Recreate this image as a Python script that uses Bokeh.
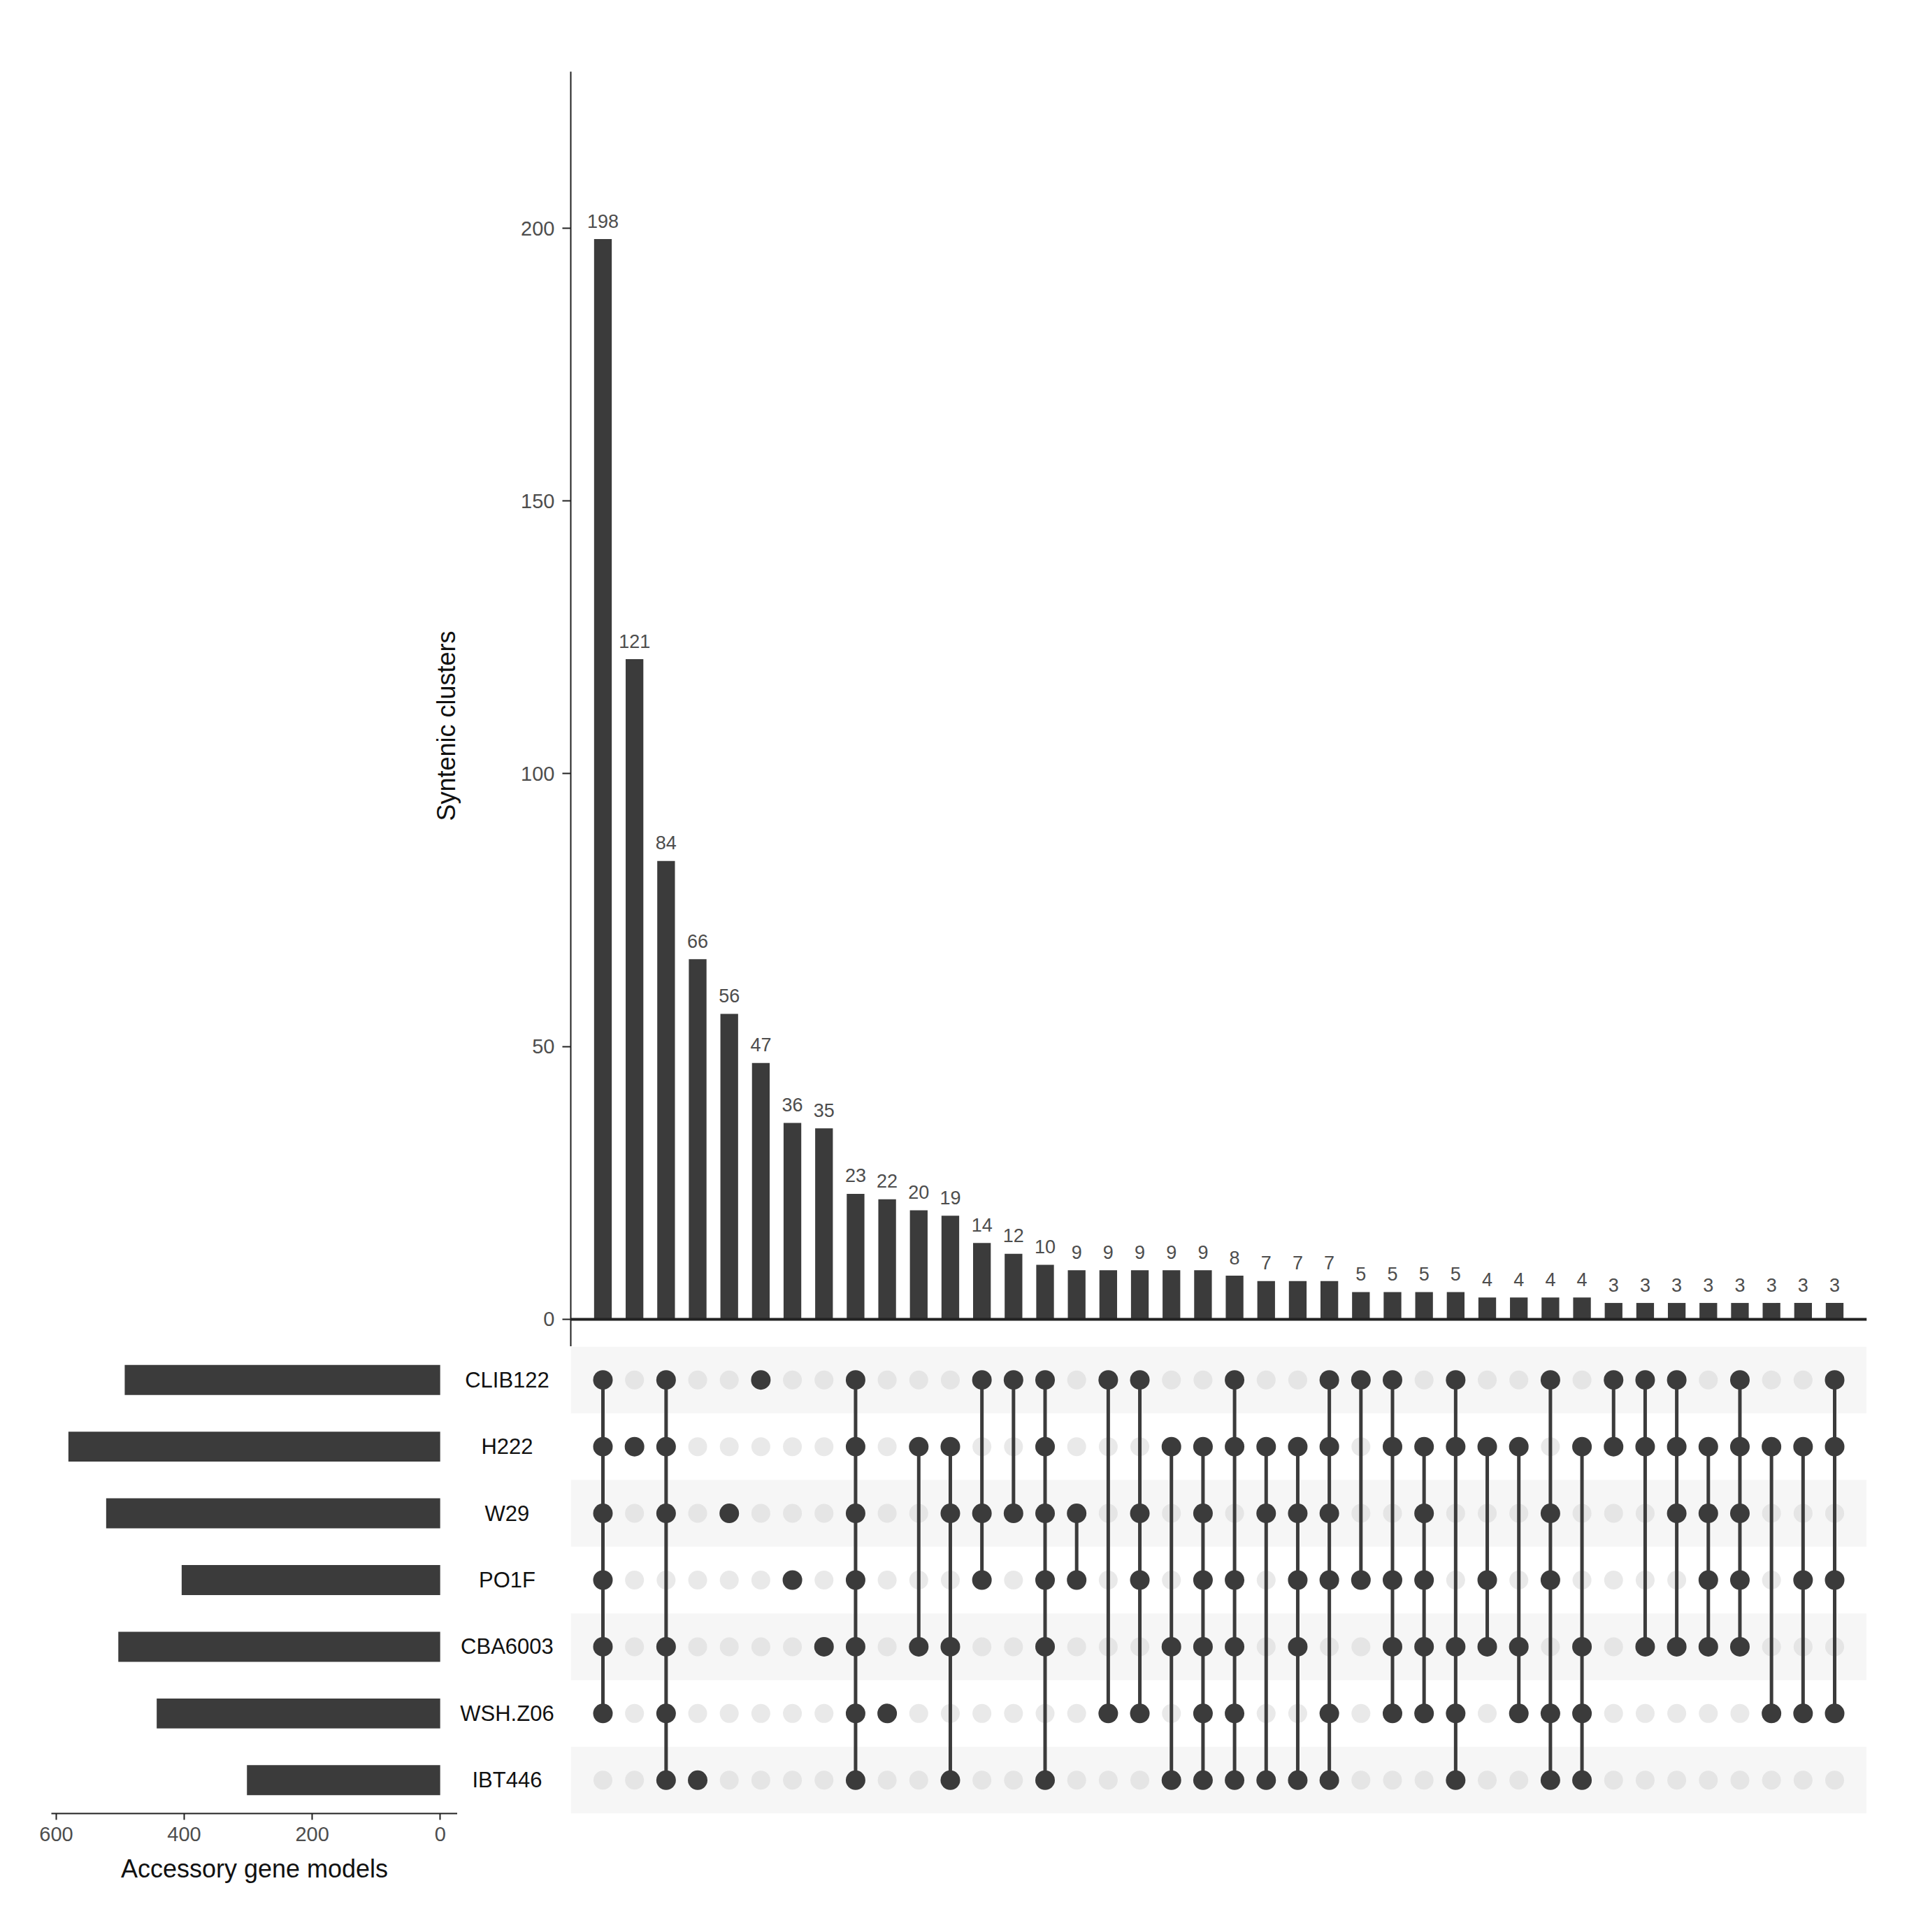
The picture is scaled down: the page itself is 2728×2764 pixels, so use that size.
from bokeh.plotting import figure
from bokeh.layouts import column, row
from bokeh.models import Range1d, FixedTicker, Span, BoxAnnotation, Title
from bokeh.embed import file_html
from bokeh.resources import INLINE
from bokeh.core.properties import value

# ---------------- data ----------------
sets = ["CLIB122", "H222", "W29", "PO1F", "CBA6003", "WSH.Z06", "IBT446"]
set_sizes = [493, 581, 522, 404, 503, 443, 302]

counts = [198, 121, 84, 66, 56, 47, 36, 35, 23, 22, 20, 19, 14, 12, 10,
          9, 9, 9, 9, 9, 8, 7, 7, 7, 5, 5, 5, 5, 4, 4, 4, 4,
          3, 3, 3, 3, 3, 3, 3, 3]

members = [
    ["CLIB122", "H222", "W29", "PO1F", "CBA6003", "WSH.Z06"],
    ["H222"],
    ["CLIB122", "H222", "W29", "CBA6003", "WSH.Z06", "IBT446"],
    ["IBT446"],
    ["W29"],
    ["CLIB122"],
    ["PO1F"],
    ["CBA6003"],
    ["CLIB122", "H222", "W29", "PO1F", "CBA6003", "WSH.Z06", "IBT446"],
    ["WSH.Z06"],
    ["H222", "CBA6003"],
    ["H222", "W29", "CBA6003", "IBT446"],
    ["CLIB122", "W29", "PO1F"],
    ["CLIB122", "W29"],
    ["CLIB122", "H222", "W29", "PO1F", "CBA6003", "IBT446"],
    ["W29", "PO1F"],
    ["CLIB122", "WSH.Z06"],
    ["CLIB122", "W29", "PO1F", "WSH.Z06"],
    ["H222", "CBA6003", "IBT446"],
    ["H222", "W29", "PO1F", "CBA6003", "WSH.Z06", "IBT446"],
    ["CLIB122", "H222", "PO1F", "CBA6003", "WSH.Z06", "IBT446"],
    ["H222", "W29", "IBT446"],
    ["H222", "W29", "PO1F", "CBA6003", "IBT446"],
    ["CLIB122", "H222", "W29", "PO1F", "WSH.Z06", "IBT446"],
    ["CLIB122", "PO1F"],
    ["CLIB122", "H222", "PO1F", "CBA6003", "WSH.Z06"],
    ["H222", "W29", "PO1F", "CBA6003", "WSH.Z06"],
    ["CLIB122", "H222", "CBA6003", "WSH.Z06", "IBT446"],
    ["H222", "PO1F", "CBA6003"],
    ["H222", "CBA6003", "WSH.Z06"],
    ["CLIB122", "W29", "PO1F", "WSH.Z06", "IBT446"],
    ["H222", "CBA6003", "WSH.Z06", "IBT446"],
    ["CLIB122", "H222"],
    ["CLIB122", "H222", "CBA6003"],
    ["CLIB122", "H222", "W29", "CBA6003"],
    ["H222", "W29", "PO1F", "CBA6003"],
    ["CLIB122", "H222", "W29", "PO1F", "CBA6003"],
    ["H222", "WSH.Z06"],
    ["H222", "PO1F", "WSH.Z06"],
    ["CLIB122", "H222", "PO1F", "WSH.Z06"],
]

y_ticks = [0, 50, 100, 150, 200]
x_ticks_left = [0, 200, 400, 600]

# ---------------- styling ----------------
DARK = "#3b3b3b"
FONT = value("Liberation Sans")
n = len(sets)
ncol = len(counts)
xs = list(range(1, ncol + 1))
row_y = {s: n - i for i, s in enumerate(sets)}   # CLIB122 on top

X_RANGE = (-0.018, ncol + 1.018)
ROW_RANGE = (0.5, n + 0.5)
BOTTOM_H = 818
BOTTOM_B = 150


def clean(p):
    p.outline_line_color = None
    p.background_fill_color = "white"
    p.border_fill_color = "white"
    for g in list(p.xgrid) + list(p.ygrid):
        g.visible = False


def style_axis(ax, ticks, tick_out, label_standoff):
    ax.ticker = FixedTicker(ticks=ticks)
    ax.major_label_text_font = "Liberation Sans"
    ax.major_label_text_font_size = "29px"
    ax.major_label_text_color = "#4d4d4d"
    ax.major_label_standoff = label_standoff
    ax.major_tick_out = tick_out
    ax.major_tick_in = 0
    ax.minor_tick_out = 0
    ax.minor_tick_in = 0
    ax.axis_line_color = "#222222"
    ax.axis_line_width = 2
    ax.major_tick_line_color = "#222222"
    ax.major_tick_line_width = 2


# ---------------- top: intersection sizes ----------------
top = figure(width=2710, height=1926,
             x_range=Range1d(*X_RANGE), y_range=Range1d(-5.0, 228.7),
             output_backend="svg", toolbar_location=None,
             x_axis_location=None, y_axis_location="left",
             min_border_left=816, min_border_right=40,
             min_border_top=102, min_border_bottom=0)
clean(top)
top.vbar(x=xs, top=counts, bottom=0, width=0.56, fill_color=DARK, line_color=None)
top.add_layout(Span(location=0, dimension="width", line_color="#222222", line_width=4))
top.text(x=xs, y=counts, text=[str(c) for c in counts],
         text_align="center", text_baseline="alphabetic", y_offset=-26,
         text_font_size="27px", text_color="#4d4d4d", text_font=FONT)

ya = top.yaxis[0]
style_axis(ya, y_ticks, 12, 11)
top.add_layout(Title(text="Syntenic clusters", align="left", offset=752,
                     standoff=168, text_font="Liberation Sans",
                     text_font_size="36px", text_font_style="normal",
                     text_color="#111111"), "left")

# ---------------- bottom-left: set sizes ----------------
left = figure(width=654, height=BOTTOM_H,
              x_range=Range1d(607.6, -27.1), y_range=Range1d(*ROW_RANGE),
              output_backend="svg", toolbar_location=None,
              x_axis_location="below", y_axis_location=None,
              min_border_left=73, min_border_right=0,
              min_border_top=0, min_border_bottom=BOTTOM_B)
clean(left)
left.hbar(y=[row_y[s] for s in sets], left=0, right=set_sizes, height=0.45,
          fill_color=DARK, line_color=None)
xa = left.xaxis[0]
style_axis(xa, x_ticks_left, 9, 10)
xa.axis_label = "Accessory gene models"
xa.axis_label_text_font = "Liberation Sans"
xa.axis_label_text_font_size = "36px"
xa.axis_label_text_font_style = "normal"
xa.axis_label_text_color = "#111111"
xa.axis_label_standoff = 16

# ---------------- bottom-middle: set names ----------------
labels = figure(width=162, height=BOTTOM_H,
                x_range=Range1d(0, 1), y_range=Range1d(*ROW_RANGE),
                output_backend="svg", toolbar_location=None,
                x_axis_location=None, y_axis_location=None,
                min_border_left=0, min_border_right=0,
                min_border_top=0, min_border_bottom=BOTTOM_B)
clean(labels)
labels.text(x=[0.438] * n, y=[row_y[s] for s in sets], text=sets,
            text_align="center", text_baseline="middle",
            text_font_size="31px", text_color="#111111", text_font=FONT)

# ---------------- bottom-right: matrix ----------------
mat = figure(width=1854, height=BOTTOM_H,
             x_range=Range1d(*X_RANGE), y_range=Range1d(*ROW_RANGE),
             output_backend="svg", toolbar_location=None,
             x_axis_location=None, y_axis_location=None,
             min_border_left=0, min_border_right=0,
             min_border_top=0, min_border_bottom=BOTTOM_B)
clean(mat)
for i, s in enumerate(sets):
    if i % 2 == 0:
        mat.add_layout(BoxAnnotation(bottom=row_y[s] - 0.5, top=row_y[s] + 0.5,
                                     fill_color="#f6f6f6", fill_alpha=1.0,
                                     line_color=None, level="underlay"))

off_x, off_y, on_x, on_y = [], [], [], []
seg_x, seg_y0, seg_y1 = [], [], []
for x, mem in zip(xs, members):
    for s in sets:
        if s in mem:
            on_x.append(x)
            on_y.append(row_y[s])
        else:
            off_x.append(x)
            off_y.append(row_y[s])
    if len(mem) > 1:
        ys = [row_y[s] for s in mem]
        seg_x.append(x)
        seg_y0.append(min(ys))
        seg_y1.append(max(ys))

mat.scatter(x=off_x, y=off_y, size=27, marker="circle",
            fill_color="#d4d4d4", fill_alpha=0.5, line_color=None)
mat.segment(x0=seg_x, y0=seg_y0, x1=seg_x, y1=seg_y1,
            line_color=DARK, line_width=5)
mat.scatter(x=on_x, y=on_y, size=28, marker="circle",
            fill_color=DARK, line_color=None)

layout = column(top, row(left, labels, mat))
open("out.html", "w").write(file_html(layout, INLINE))
